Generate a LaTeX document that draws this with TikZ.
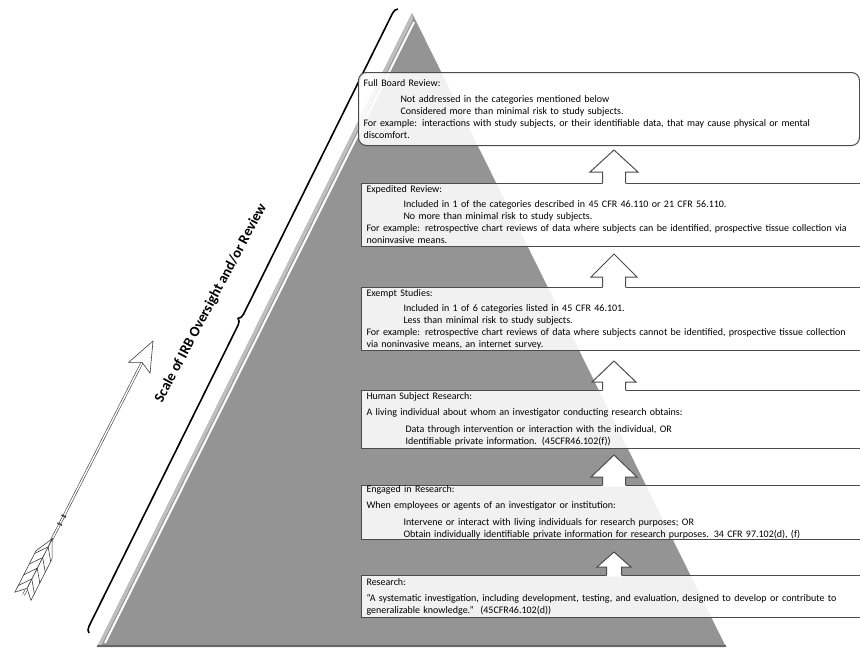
\documentclass[tikz,border=0pt]{standalone}
\usepackage{fontspec}
\setmainfont{Carlito}
\usetikzlibrary{decorations.pathreplacing, calc}
\newcommand{\boxind}{\hspace*{37pt}}

\begin{document}
\begin{tikzpicture}[x=1pt, y=-1pt]
     % Define styles
     \tikzstyle{level} = [draw=black!70, line width=1pt, fill=white, fill opacity=0.88, text opacity=1,
                          anchor=north west, align=left, inner xsep=5pt, inner ysep=0pt,
                          font=\fontsize{10}{12}\selectfont]
     \tikzstyle{uparrow} = [draw=black!70, line width=1pt]
     \tikzstyle{quiver} = [draw=black!75, line width=0.6pt]

     \useasboundingbox (0,0) rectangle (860,651);

     % Pyramid
     \fill[black!42]     (97,647) -- (412,13) -- (726,647) -- cycle;
     \fill[black!25]     (97,647) -- (412,13) -- (413,19) -- (101,646) -- cycle;
     \draw[white, line width=2pt] (105,643) -- (414,22);
     \draw[black!60, line width=2.5pt] (97,646) -- (726,646);

     % Scale bracket
     \draw[line width=1.6pt, decorate, decoration={brace, amplitude=6pt}] (89,633) -- (398,9);
     \node[rotate=62, font=\bfseries\fontsize{14.5}{16}\selectfont] (scale) at (211,303) {Scale of IRB Oversight and/or Review};

     % Arrow
     \coordinate (tip)    at (153,341);
     \coordinate (aftail) at (16.8,608.3);
     \draw[quiver, double=white, double distance=1.4pt] ($(tip)!0.08!(aftail)$) -- ($(tip)!0.95!(aftail)$);
     \filldraw[quiver, fill=white] (tip) -- ($(tip)!0.1!(aftail)!12pt!90:(aftail)$) -- ($(tip)!0.08!(aftail)$)
          -- ($(tip)!0.1!(aftail)!12pt!-90:(aftail)$) -- cycle;
     \foreach \s in {0.655,0.685} {
          \draw[black!75, line width=1.5pt] ($(tip)!\s!(aftail)!2.5pt!90:(aftail)$) -- ($(tip)!\s!(aftail)!2.5pt!-90:(aftail)$);
     }
     \foreach \side in {90,-90} {
          \filldraw[quiver, fill=white] ($(tip)!0.74!(aftail)$) -- ($(tip)!0.8!(aftail)!9pt!\side:(aftail)$)
               -- ($(tip)!0.955!(aftail)!9pt!\side:(aftail)$) -- ($(tip)!0.925!(aftail)$) -- cycle;
          \foreach \s in {0.77,0.81,0.85,0.89} {
               \draw[quiver] ($(tip)!\s!(aftail)$) -- ($(tip)!\s+0.04!(aftail)!9pt!\side:(aftail)$);
          }
     }

     % Levels
     \node[level, rounded corners=8pt, text width=491pt, minimum height=73pt] (fullboard) at (358,72) {%
          Full Board Review:\\[4pt]
          \boxind Not addressed in the categories mentioned below\\
          \boxind Considered more than minimal risk to study subjects.\\
          For example: interactions with study subjects, or their identifiable data, that may cause physical or mental\\
          discomfort.};
     \node[level, text width=500pt, minimum height=63pt] (expedited) at (361,183) {%
          Expedited Review:\\[3pt]
          \boxind Included in 1 of the categories described in 45 CFR 46.110 or 21 CFR 56.110.\\
          \boxind No more than minimal risk to study subjects.\\
          For example: retrospective chart reviews of data where subjects can be identified, prospective tissue collection via\\
          noninvasive means.};
     \node[level, text width=500pt, minimum height=63pt] (exempt) at (361,287) {%
          Exempt Studies:\\[3pt]
          \boxind Included in 1 of 6 categories listed in 45 CFR 46.101.\\
          \boxind Less than minimal risk to study subjects.\\
          For example: retrospective chart reviews of data where subjects cannot be identified, prospective tissue collection\\
          via noninvasive means, an internet survey.};
     \node[level, text width=500pt, minimum height=58pt] (humansubj) at (361,390) {%
          Human Subject Research:\\[4pt]
          A living individual about whom an investigator conducting research obtains:\\[5pt]
          \hspace*{39pt}Data through intervention or interaction with the individual, OR\\
          \hspace*{39pt}Identifiable private information. (45CFR46.102(f))};
     \node[level, text width=500pt, minimum height=53pt] (engaged) at (361,485) {%
          Engaged in Research:\\[4pt]
          When employees or agents of an investigator or institution:\\[5pt]
          \boxind Intervene or interact with living individuals for research purposes; OR\\
          \boxind Obtain individually identifiable private information for research purposes. 34 CFR 97.102(d), (f)};
     \node[level, text width=500pt, minimum height=42pt] (research) at (361,575) {%
          Research:\\[4pt]
          ``A systematic investigation, including development, testing, and evaluation, designed to develop or contribute to\\
          generalizable knowledge.''~~(45CFR46.102(d))};

     % Up arrows between levels
     \foreach \lo/\sh/\hh/\hw/\sw in {expedited/11/22/24/11.5, exempt/10/23/23/11.5, humansubj/8/21/22/11.5,
                                      engaged/8/22/23/11.5, research/8/15/17/7.5} {
          \path (\lo.north west) ++(253,0) coordinate (base);
          \fill[white, shift={(base)}] (-\sw,1.5) -- (-\sw,-\sh) -- (-\hw,-\sh) -- (0,{-\sh-\hh})
               -- (\hw,-\sh) -- (\sw,-\sh) -- (\sw,1.5) -- cycle;
          \draw[uparrow, shift={(base)}] (-\sw,0) -- (-\sw,-\sh) -- (-\hw,-\sh) -- (0,{-\sh-\hh})
               -- (\hw,-\sh) -- (\sw,-\sh) -- (\sw,0);
     }

\end{tikzpicture}
\end{document}
